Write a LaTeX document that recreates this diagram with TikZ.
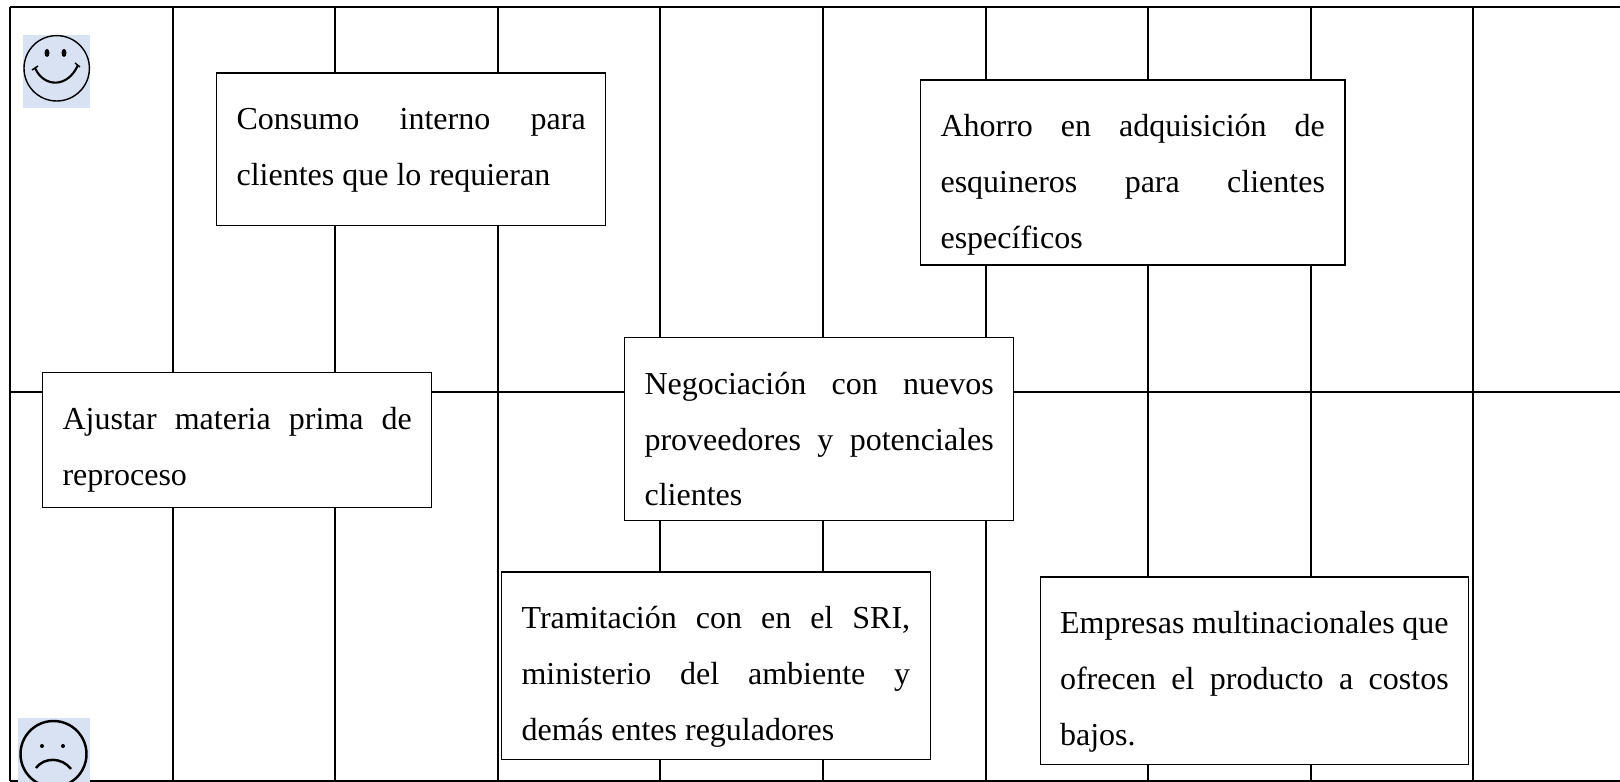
\documentclass[tikz,border=0pt]{standalone}
\usepackage{fontspec}
\setmainfont{Liberation Serif}
\definecolor{faceblue}{HTML}{D9E2F3}
\tikzset{
  gridline/.style={draw=black, line width=0.55pt},
  notebox/.style={draw=black, fill=white, line width=0.3pt, anchor=north west, align=justify,
    inner xsep=5.7pt, inner ysep=3pt, font=\fontsize{9.1}{15.8}\selectfont,
    execute at begin node={\rule{0pt}{13.2pt}}},
  faceline/.style={draw=black, line width=0.4pt},
  faceback/.style={fill=faceblue, draw=none}
}
\begin{document}
\begin{tikzpicture}[x=0.01cm, y=-0.01cm]
\useasboundingbox (0,0) rectangle (1620,782);
% grid
\draw[gridline] (10,7) -- (1620,7);
\draw[gridline] (10,392) -- (1620,392);
\draw[gridline] (10,781) -- (1620,781);
\draw[gridline] (10,7) -- (10,781);
\draw[gridline] (173,7) -- (173,781);
\draw[gridline] (335,7) -- (335,781);
\draw[gridline] (498,7) -- (498,781);
\draw[gridline] (660,7) -- (660,781);
\draw[gridline] (823,7) -- (823,781);
\draw[gridline] (986,7) -- (986,781);
\draw[gridline] (1148,7) -- (1148,781);
\draw[gridline] (1311,7) -- (1311,781);
\draw[gridline] (1473,7) -- (1473,781);
% boxes
\node[notebox, text width=99.3pt, text depth=24.2pt] (consumo) at (216,72.5) {Consumo interno para\linebreak clientes que lo requieran};
\node[notebox, text width=109.3pt, text depth=33.4pt] (ahorro) at (920,79.5) {Ahorro en adquisición de\linebreak esquineros para clientes\linebreak específicos};
\node[notebox, text width=99.3pt, text depth=19.2pt] (ajustar) at (42,372) {Ajustar materia prima de\linebreak reproceso};
\node[notebox, text width=99.3pt, text depth=32.8pt] (negociacion) at (624,337) {Negociación con nuevos\linebreak proveedores y potenciales\linebreak clientes};
\node[notebox, text width=110.5pt, text depth=34pt] (tramitacion) at (501,571.5) {Tramitación con en el SRI,\linebreak ministerio del ambiente y\linebreak demás entes reguladores};
\node[notebox, text width=110.5pt, text depth=34pt] (empresas) at (1039.5,576.5) {Empresas multinacionales que\linebreak ofrecen el producto a costos\linebreak bajos.};
% happy face
\fill[faceback] (23,35) rectangle (90,108);
\draw[faceline] (56.7,68.3) circle (32.7);
\fill (47,53) ellipse (2.5 and 4);
\fill (64,53) ellipse (2.5 and 4);
\draw[faceline, line width=0.6pt] (35,68) .. controls (44,88) and (68,88) .. (78,65);
\draw[faceline] (32,70) -- (38,66);
\draw[faceline] (75,63) -- (80,67);
% sad face
\begin{scope}
\clip (18,718) rectangle (90,782);
\fill[faceback] (18,718) rectangle (90,782);
\draw[faceline, line width=0.7pt] (53.5,754) circle (33);
\fill (42,746) circle (2);
\fill (63,746) circle (2);
\draw[faceline, line width=0.7pt] (36,768) .. controls (44,757) and (62,757) .. (71,769);
\end{scope}
\end{tikzpicture}
\end{document}
